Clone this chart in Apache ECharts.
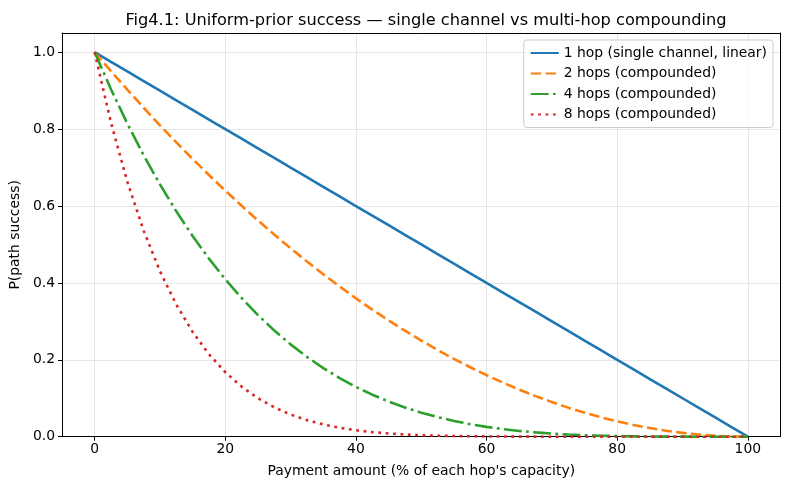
<!DOCTYPE html>
<html>
<head>
<meta charset="utf-8">
<script src="https://cdn.jsdelivr.net/npm/echarts@6/dist/echarts.min.js"></script>
<style>
    html, body { margin: 0; padding: 0; background: #fff; }
    #main { width: 790px; height: 490px; }
</style>
</head>
<body>
<div id="main"></div>
<script>
// payment amount (% of capacity)
var amounts = [0, 2.5, 5, 7.5, 10, 12.5, 15, 17.5, 20, 22.5, 25, 27.5, 30, 32.5, 35, 37.5, 40, 42.5, 45, 47.5, 50,
    52.5, 55, 57.5, 60, 62.5, 65, 67.5, 70, 72.5, 75, 77.5, 80, 82.5, 85, 87.5, 90, 92.5, 95, 97.5, 100];

var hop1 = [1, .975, .95, .925, .9, .875, .85, .825, .8, .775, .75, .725, .7, .675, .65, .625, .6, .575, .55, .525, .5,
    .475, .45, .425, .4, .375, .35, .325, .3, .275, .25, .225, .2, .175, .15, .125, .1, .075, .05, .025, 0];

var hop2 = [1, .9506, .9025, .8556, .81, .7656, .7225, .6806, .64, .6006, .5625, .5256, .49, .4556, .4225, .3906, .36,
    .3306, .3025, .2756, .25, .2256, .2025, .1806, .16, .1406, .1225, .1056, .09, .0756, .0625, .0506, .04, .0306,
    .0225, .0156, .01, .0056, .0025, .0006, 0];

var hop4 = [1, .9037, .8145, .7321, .6561, .5862, .522, .4632, .4096, .3607, .3164, .2763, .2401, .2076, .1785, .1526,
    .1296, .1093, .0915, .076, .0625, .0509, .041, .0326, .0256, .0198, .015, .0112, .0081, .0057, .0039, .0026, .0016,
    .0009, .0005, .0002, .0001, 0, 0, 0, 0];

var hop8 = [1, .8167, .6634, .536, .4305, .3436, .2725, .2146, .1678, .1301, .1001, .0763, .0576, .0431, .0319, .0233,
    .0168, .0119, .0084, .0058, .0039, .0026, .0017, .0011, .0007, .0004, .0002, .0001, 0, 0, 0, 0, 0, 0, 0, 0, 0, 0,
    0, 0, 0];

var names = ['1 hop (single channel, linear)', '2 hops (compounded)', '4 hops (compounded)', '8 hops (compounded)'];
var colors = ['#1f77b4', '#ff7f0e', '#2ca02c', '#d62728'];
var dashes = ['solid', [10.4, 4.4], [17.8, 4.4, 2.8, 4.4], [2.8, 4.6]];
var values = [hop1, hop2, hop4, hop8];

function pairs(ys) {
    return amounts.map(function (x, i) { return [x, ys[i]]; });
}

var font = 'DejaVu Sans';
var fs = 13.9;
var myChart = echarts.init(document.getElementById('main'));

var series = values.map(function (ys, i) {
    return {
        name: names[i],
        type: 'line',
        data: pairs(ys),
        symbol: 'none',
        lineStyle: { color: colors[i], width: 2.6, type: dashes[i], cap: 'butt' },
        itemStyle: { color: colors[i] },
        z: 2 + i
    };
});

// frame axes (top / right spines)
var frameAxis = {
    type: 'value',
    axisLine: { show: true, onZero: false, lineStyle: { color: '#000', width: 1 } },
    axisTick: { show: false },
    axisLabel: { show: false },
    splitLine: { show: false }
};

var option = {
    animation: false,
    textStyle: { fontFamily: font },
    title: {
        text: 'Fig4.1: Uniform-prior success \u2014 single channel vs multi-hop compounding',
        left: 421,
        textAlign: 'center',
        top: 8,
        textStyle: { fontFamily: font, fontSize: 16.2, fontWeight: 'normal', color: '#000' }
    },
    legend: {
        orient: 'vertical',
        right: 17,
        top: 40,
        itemWidth: 28,
        itemHeight: 12,
        itemGap: 6.5,
        padding: [6, 6, 6, 6],
        backgroundColor: 'rgba(255,255,255,0.8)',
        borderColor: '#cccccc',
        borderWidth: 1,
        borderRadius: 3,
        itemStyle: { opacity: 0 },
        textStyle: { fontFamily: font, fontSize: fs, color: '#000' },
        data: names
    },
    grid: { left: 61.5, right: 9.5, top: 33, bottom: 53.3 },
    xAxis: [{
        type: 'value',
        min: -5, max: 105,
        name: "Payment amount (% of each hop's capacity)",
        nameLocation: 'middle',
        nameGap: 28,
        nameTextStyle: { fontFamily: font, fontSize: fs, color: '#000' },
        axisLine: { show: true, onZero: false, lineStyle: { color: '#000', width: 1 } },
        axisTick: { show: true, length: 4, lineStyle: { color: '#000', width: 1 } },
        axisLabel: { showMinLabel: false, showMaxLabel: false, fontSize: fs, color: '#000', margin: 6, fontFamily: font },
        splitLine: { show: true, lineStyle: { color: '#e6e6e6', width: 1 } },
        z: 1
    }, Object.assign({ position: 'top', min: -5, max: 105, z: 10 }, frameAxis)],
    yAxis: [{
        type: 'value',
        min: 0, max: 1.05,
        name: 'P(path success)',
        nameLocation: 'middle',
        nameGap: 38,
        nameTextStyle: { fontFamily: font, fontSize: fs, color: '#000' },
        axisLine: { show: true, onZero: false, lineStyle: { color: '#000', width: 1 } },
        axisTick: { show: true, length: 4, lineStyle: { color: '#000', width: 1 } },
        axisLabel: {
            showMaxLabel: false, fontSize: fs, color: '#000', margin: 7, fontFamily: font,
            formatter: function (v) { return v.toFixed(1); }
        },
        splitLine: { show: true, lineStyle: { color: '#e6e6e6', width: 1 } },
        z: 1
    }, Object.assign({ position: 'right', min: 0, max: 1.05, z: 10 }, frameAxis)],
    series: series
};

myChart.setOption(option);
</script>
</body>
</html>
